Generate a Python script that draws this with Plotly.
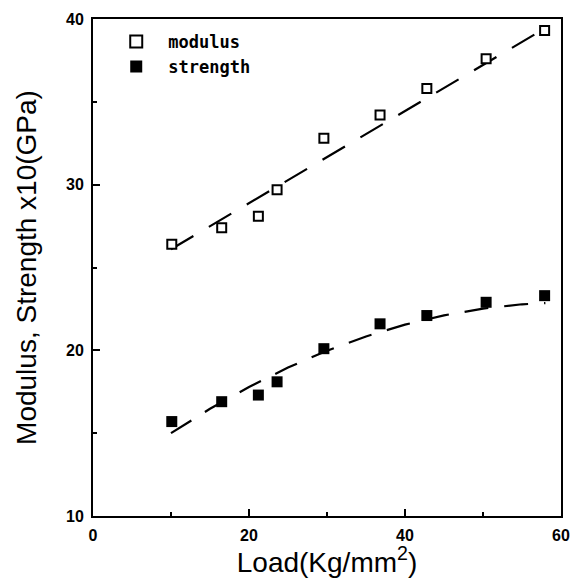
import plotly.graph_objects as go

# Data
load = [10.1, 16.5, 21.2, 23.6, 29.6, 36.8, 42.8, 50.4, 57.9]
modulus = [26.4, 27.4, 28.1, 29.7, 32.8, 34.2, 35.8, 37.6, 39.3]
strength = [15.7, 16.9, 17.3, 18.1, 20.1, 21.6, 22.1, 22.9, 23.3]

# Fitted (dashed) curves
mod_fit_x = [10, 58]
mod_fit_y = [26.1, 39.45]
str_fit_x = [10, 15, 20, 25, 30, 35, 40, 45, 50, 55, 58]
str_fit_y = [15.0, 16.47, 17.79, 18.96, 19.98, 20.84, 21.55, 22.11, 22.52, 22.78, 22.85]

x_ticks = [0, 20, 40, 60]
y_ticks = [10, 20, 30, 40]

tick_font = dict(family="Liberation Sans", size=16, color="black", weight="bold")
title_font = dict(family="Liberation Sans", size=28, color="black")

fig = go.Figure()
fig.add_trace(go.Scatter(x=mod_fit_x, y=mod_fit_y, mode="lines",
                         line=dict(color="black", width=2.2, dash="26px,18px"),
                         showlegend=False, hoverinfo="skip"))
fig.add_trace(go.Scatter(x=str_fit_x, y=str_fit_y, mode="lines",
                         line=dict(color="black", width=2.2, dash="24px,16px"),
                         showlegend=False, hoverinfo="skip"))
fig.add_trace(go.Scatter(x=load, y=modulus, mode="markers", name="modulus",
                         marker=dict(symbol="square", size=9, color="white",
                                     line=dict(color="black", width=2))))
fig.add_trace(go.Scatter(x=load, y=strength, mode="markers", name="strength",
                         marker=dict(symbol="square", size=11, color="black",
                                     line=dict(color="black", width=0))))

axis_common = dict(showline=True, linecolor="black", linewidth=2, mirror=True,
                   showgrid=False, zeroline=False, ticks="inside", tickcolor="black",
                   ticklen=7, tickwidth=1.5, tickfont=tick_font, automargin=False)

fig.update_xaxes(range=[0, 60], tickvals=x_ticks, ticktext=[str(v) for v in x_ticks],
                 ticklabelstandoff=4,
                 minor=dict(dtick=10, ticks="inside", ticklen=4, tickcolor="black", tickwidth=1.5),
                 title=dict(text="Load(Kg/mm<sup>2</sup>)", font=title_font, standoff=3),
                 **axis_common)
fig.update_yaxes(range=[10, 40], tickvals=y_ticks, ticktext=[str(v) for v in y_ticks],
                 ticklabelstandoff=4,
                 minor=dict(dtick=5, ticks="inside", ticklen=4, tickcolor="black", tickwidth=1.5),
                 title=dict(text="Modulus, Strength x10(GPa)", font=title_font, standoff=21),
                 **axis_common)

# The page body has an 8px default margin, so the figure is sized to fit the window.
fig.update_layout(width=570, height=570, plot_bgcolor="white", paper_bgcolor="white",
                  margin=dict(l=85, r=17, t=11, b=62),
                  legend=dict(x=0.024, y=0.99, xanchor="left", yanchor="top",
                              bgcolor="rgba(0,0,0,0)", borderwidth=0,
                              font=dict(family="DejaVu Sans Mono", size=17, color="black",
                                        weight="bold"),
                              itemsizing="constant", itemwidth=54))

fig.write_html("out.html")
